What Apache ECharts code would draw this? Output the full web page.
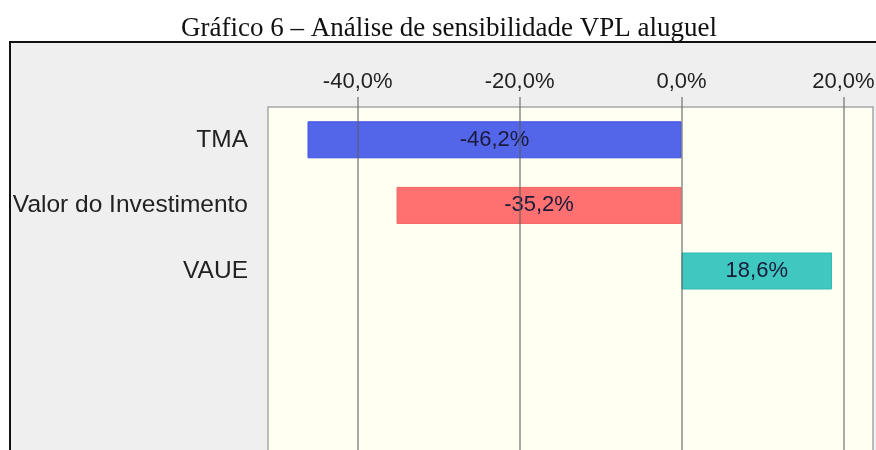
<!DOCTYPE html>
<html>
<head>
<meta charset="utf-8">
<title>Análise de sensibilidade VPL aluguel</title>
<script src="https://cdn.jsdelivr.net/npm/echarts@6/dist/echarts.min.js"></script>
<style>
  html, body { margin: 0; padding: 0; background: #ffffff; }
  #chart { width: 876px; height: 450px; }
</style>
</head>
<body>
<div id="chart"></div>
<script>
// Sensitivity of the rental NPV to each input
const categories = ['TMA', 'Valor do Investimento', 'VAUE'];
const variation = [-46.2, -35.2, 18.6];
const tickValues = [-40, -20, 0, 20];
const barColors = ['#5366ea', '#ff7171', '#3fc8bf'];
const barBorders = ['#3e52e4', '#f26464', '#30bbb1'];

const pct = v => v.toFixed(1).replace('.', ',') + '%';

const chart = echarts.init(document.getElementById('chart'), null, { renderer: 'canvas' });

chart.setOption({
  backgroundColor: '#ffffff',
  animation: false,
  graphic: [
    {
      type: 'rect',
      z: -10,
      shape: { x: 10, y: 42, width: 900, height: 440 },
      style: { fill: '#efefef', stroke: '#111111', lineWidth: 2 }
    },
    {
      type: 'text',
      x: 449,
      y: 29,
      style: {
        text: 'Gráfico 6 – Análise de sensibilidade VPL aluguel',
        fontFamily: '"Liberation Serif", serif',
        fontSize: 27,
        fill: '#111111',
        align: 'center',
        verticalAlign: 'middle'
      }
    }
  ],
  grid: {
    left: 268,
    width: 605,
    top: 107,
    height: 393.6,
    outerBoundsMode: 'none',
    containLabel: false,
    show: true,
    backgroundColor: '#fffff2',
    borderColor: '#a8a8a8',
    borderWidth: 1.5
  },
  xAxis: {
    type: 'value',
    position: 'top',
    min: -51.08,
    max: 23.66,
    z: 5,
    axisLine: { show: false },
    axisTick: {
      show: true,
      customValues: tickValues,
      length: 10,
      lineStyle: { color: '#8a8a8a', width: 1.5 }
    },
    axisLabel: {
      customValues: tickValues,
      formatter: v => pct(v),
      fontFamily: '"Liberation Sans", Arial, sans-serif',
      fontSize: 22,
      color: '#222222',
      margin: 14
    },
    splitLine: {
      show: true,
      lineStyle: { color: 'rgba(90,90,90,0.65)', width: 1.6 }
    }
  },
  yAxis: {
    type: 'category',
    data: categories,
    inverse: true,
    max: 5,
    axisLine: { show: false },
    axisTick: { show: false },
    splitLine: { show: false },
    axisLabel: {
      fontFamily: '"Liberation Sans", Arial, sans-serif',
      fontSize: 24.5,
      color: '#222222',
      margin: 20
    }
  },
  series: [{
    type: 'bar',
    barWidth: 37,
    data: variation.map((v, i) => ({
      value: v,
      itemStyle: { color: barColors[i], borderColor: barBorders[i], borderWidth: 1 }
    })),
    label: {
      show: true,
      position: 'inside',
      formatter: p => pct(p.value),
      fontFamily: '"Liberation Sans", Arial, sans-serif',
      fontSize: 22,
      color: '#1a1a3a'
    }
  }]
});
</script>
</body>
</html>
